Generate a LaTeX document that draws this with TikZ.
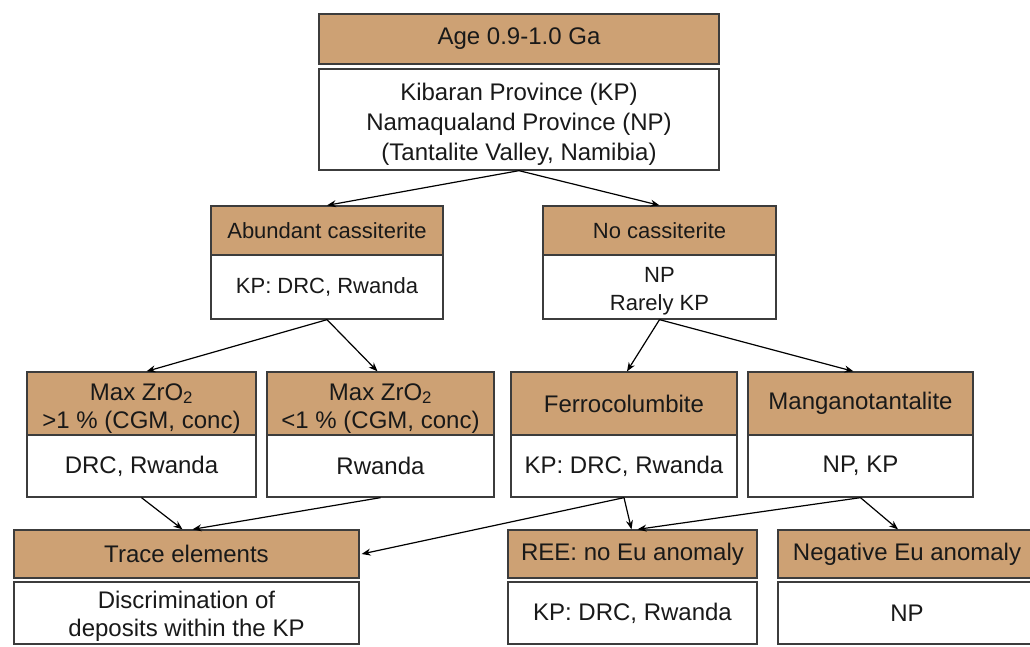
\documentclass[tikz,border=0pt]{standalone}
\usepackage{fontspec}
\setmainfont{Liberation Sans}
\usetikzlibrary{arrows.meta,calc}
\definecolor{tan}{RGB}{205,161,116}
\definecolor{edge}{RGB}{60,60,60}
\newcommand{\lowered}[2]{\raisebox{-#1}[\height][\depth]{\begin{tabular}{@{}c@{}}#2\end{tabular}}}
\tikzset{
  boxbase/.style={draw=edge, line width=1.3pt, inner sep=0pt, align=center,
    font=\fontsize{24}{28}\selectfont, text=black!90},
  hbox/.style={boxbase, fill=tan},
  wbox/.style={boxbase, fill=white},
  small/.style={font=\fontsize{22}{28}\selectfont},
  conn/.style={line width=1.2pt, -{Stealth[length=9pt,width=7pt]}},
}
\begin{document}
\begin{tikzpicture}[x=1pt,y=-1pt]
\useasboundingbox (0,0) rectangle (1030,646);
\fill[white] (0,0) rectangle (1030,646);
% top
\node[hbox, minimum width=400pt, minimum height=50pt] (age) at (519,39) {Age 0.9-1.0 Ga};
\node[wbox, minimum width=400pt, minimum height=101pt, font=\fontsize{24}{30}\selectfont] (kp) at (519,119.5)
  {\lowered{5pt}{Kibaran Province (KP)\\Namaqualand Province (NP)\\(Tantalite Valley, Namibia)}};
% level 2
\node[hbox, small, minimum width=232pt, minimum height=49pt] (abund) at (327,230.5) {Abundant cassiterite};
\node[wbox, small, minimum width=232pt, minimum height=64pt] (abundw) at (327,287) {KP: DRC, Rwanda};
\node[hbox, small, minimum width=233pt, minimum height=49pt] (nocass) at (659.5,230.5) {No cassiterite};
\node[wbox, small, minimum width=233pt, minimum height=64pt] (nocassw) at (659.5,287) {\lowered{4pt}{NP\\Rarely KP}};
% level 3
\node[hbox, minimum width=229pt, minimum height=63pt] (zr1) at (141.5,403.5) {\lowered{5pt}{Max ZrO\textsubscript{2}\\>1 \% (CGM, conc)}};
\node[wbox, minimum width=229pt, minimum height=62pt] (zr1w) at (141.5,466) {DRC, Rwanda};
\node[hbox, minimum width=227pt, minimum height=63pt] (zr2) at (380.5,403.5) {\lowered{5pt}{Max ZrO\textsubscript{2}\\<1 \% (CGM, conc)}};
\node[wbox, minimum width=227pt, minimum height=62pt] (zr2w) at (380.5,466) {Rwanda};
\node[hbox, minimum width=226pt, minimum height=63pt] (ferro) at (624,403.5) {Ferrocolumbite};
\node[wbox, minimum width=226pt, minimum height=62pt] (ferrow) at (624,466) {KP: DRC, Rwanda};
\node[hbox, minimum width=225pt, minimum height=63pt] (mang) at (860.5,403.5) {Manganotantalite};
\node[wbox, minimum width=225pt, minimum height=62pt] (mangw) at (860.5,466) {NP, KP};
% level 4
\node[hbox, minimum width=345pt, minimum height=48pt] (trace) at (186.5,554) {Trace elements};
\node[wbox, minimum width=345pt, minimum height=62pt] (tracew) at (186.5,613) {\lowered{4pt}{Discrimination of\\deposits within the KP}};
\node[hbox, minimum width=249pt, minimum height=48pt] (ree) at (632.5,554) {REE: no Eu anomaly};
\node[wbox, minimum width=249pt, minimum height=62pt] (reew) at (632.5,613) {KP: DRC, Rwanda};
\node[hbox, minimum width=258pt, minimum height=48pt] (neg) at (907,554) {Negative Eu anomaly};
\node[wbox, minimum width=258pt, minimum height=62pt] (negw) at (907,613) {NP};
% connectors
\draw[conn] (kp.south) -- (abund.north);
\draw[conn] (kp.south) -- (nocass.north);
\draw[conn] (abundw.south) -- ($(zr1.north)+(5,0)$);
\draw[conn] (abundw.south) -- ($(zr2.north)+(-3,0)$);
\draw[conn] (nocassw.south) -- ($(ferro.north)+(3,0)$);
\draw[conn] (nocassw.south) -- ($(mang.north)+(-7,0)$);
\draw[conn] (zr1w.south) -- ($(trace.north)+(-4,0)$);
\draw[conn] (zr2w.south) -- ($(trace.north)+(6,0)$);
\draw[conn] (ferrow.south) -- ($(trace.east)+(2,0)$);
\draw[conn] (ferrow.south) -- ($(ree.north)+(-1,0)$);
\draw[conn] (mangw.south) -- ($(ree.north)+(5,0)$);
\draw[conn] (mangw.south) -- ($(neg.north)+(-9,0)$);
\end{tikzpicture}
\end{document}
